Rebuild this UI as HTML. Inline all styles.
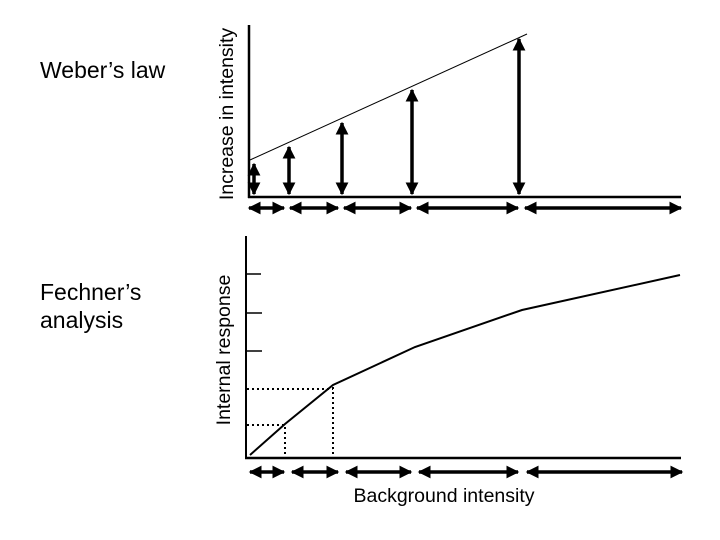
<!DOCTYPE html>
<html><head><meta charset="utf-8"><style>
html,body{margin:0;padding:0;background:#fff;}
svg{display:block;}
text{font-family:"Liberation Sans",Arial,sans-serif;fill:#000;}
</style></head><body>
<svg width="720" height="540" viewBox="0 0 720 540" xmlns="http://www.w3.org/2000/svg">
<defs>
<marker id="ah" viewBox="0 0 10 10" refX="9" refY="5" markerWidth="13" markerHeight="13" markerUnits="userSpaceOnUse" orient="auto-start-reverse">
<path d="M0,0 L10,5 L0,10 z" fill="#000"/>
</marker>
</defs>
<text x="40" y="78" font-size="23">Weber’s law</text>
<text x="40" y="300" font-size="23">Fechner’s</text>
<text x="40" y="328" font-size="23">analysis</text>
<text transform="translate(233,114) rotate(-90)" font-size="19.5" text-anchor="middle">Increase in intensity</text>
<text transform="translate(230,350) rotate(-90)" font-size="19.5" text-anchor="middle">Internal response</text>
<text x="444" y="502" font-size="19.5" text-anchor="middle">Background intensity</text>

<!-- top chart -->
<g stroke="#000" fill="none">
<line x1="249" y1="25" x2="249" y2="198" stroke-width="2.5"/>
<line x1="248" y1="197" x2="681" y2="197" stroke-width="2.5"/>
<line x1="250" y1="160" x2="527" y2="34" stroke-width="1"/>
<g stroke-width="3.5" marker-start="url(#ah)" marker-end="url(#ah)">
<line x1="254" y1="164" x2="254" y2="194"/>
<line x1="289" y1="147" x2="289" y2="194"/>
<line x1="342" y1="123" x2="342" y2="194"/>
<line x1="412" y1="90" x2="412" y2="194"/>
<line x1="519" y1="39" x2="519" y2="194"/>
<line x1="249" y1="208" x2="284" y2="208"/>
<line x1="290" y1="208" x2="338" y2="208"/>
<line x1="344" y1="208" x2="411" y2="208"/>
<line x1="417" y1="208" x2="518" y2="208"/>
<line x1="525" y1="208" x2="681" y2="208"/>
</g>
</g>

<!-- bottom chart -->
<g stroke="#000" fill="none">
<line x1="246" y1="236" x2="246" y2="459" stroke-width="2"/>
<line x1="245" y1="458" x2="681" y2="458" stroke-width="2.5"/>
<g stroke-width="1.5">
<line x1="246" y1="274" x2="261" y2="274"/>
<line x1="246" y1="313" x2="262" y2="313"/>
<line x1="246" y1="351" x2="262" y2="351"/>
</g>
<polyline points="250,455 285,424 333,385 415,347 522,310 680,275" stroke-width="2"/>
<g stroke-width="2" stroke-dasharray="2,3">
<line x1="247" y1="389" x2="333" y2="389"/>
<line x1="333" y1="387" x2="333" y2="457"/>
<line x1="247" y1="425" x2="284" y2="425"/>
<line x1="285" y1="427" x2="285" y2="457"/>
</g>
<g stroke-width="3.5" marker-start="url(#ah)" marker-end="url(#ah)">
<line x1="250" y1="472" x2="284" y2="472"/>
<line x1="292" y1="472" x2="338" y2="472"/>
<line x1="346" y1="472" x2="411" y2="472"/>
<line x1="419" y1="472" x2="518" y2="472"/>
<line x1="527" y1="472" x2="682" y2="472"/>
</g>
</g>
</svg>
</body></html>
